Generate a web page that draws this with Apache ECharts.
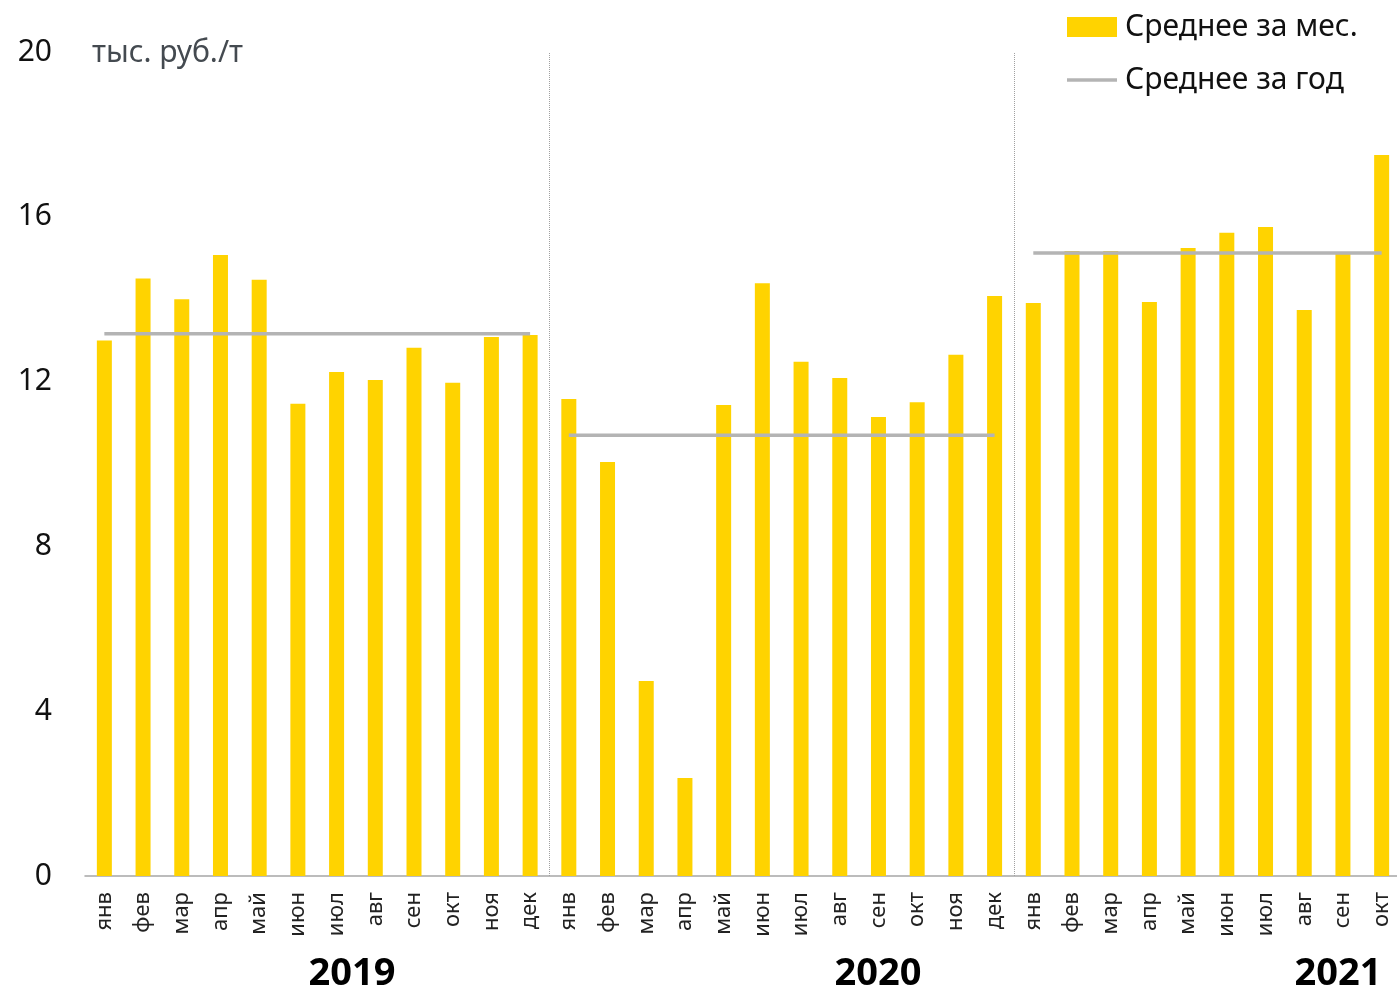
<!DOCTYPE html>
<html><head><meta charset="utf-8">
<script src="https://cdn.jsdelivr.net/npm/echarts@6/dist/echarts.min.js"></script>
<style>html,body{margin:0;padding:0;background:#fff}#c{width:1397px;height:991px}</style>
</head><body><div id="c"></div>
<script>
const monthNames = ['янв','фев','мар','апр','май','июн','июл','авг','сен','окт','ноя','дек'];
const years = ['2019','2020','2021'];
const monthsPerYear = [12, 12, 10];
const monthly = [
  13.0, 14.5, 14.0, 15.07, 14.47, 11.46, 12.23, 12.04, 12.82, 11.97, 13.08, 13.13,
  11.58, 10.05, 4.73, 2.38, 11.43, 14.39, 12.48, 12.09, 11.14, 11.5, 12.65, 14.08,
  13.91, 15.17, 15.17, 13.93, 15.24, 15.61, 15.75, 13.74, 15.12, 17.5
];
const yearAvg = [13.16, 10.70, 15.12];
const unitLabel = 'тыс. руб./т';
const seriesNames = ['Среднее за мес.', 'Среднее за год'];

const categories = [];
const separators = [];
const avgSeriesList = [];
let start = 0;
monthsPerYear.forEach((n, y) => {
  for (let i = 0; i < n; i++) categories.push(monthNames[i]);
});
monthsPerYear.forEach((n, y) => {
  const arr = [];
  for (let k = 0; k < categories.length; k++) arr.push(k >= start && k < start + n ? yearAvg[y] : '-');
  avgSeriesList.push(arr);
  start += n;
  if (y < monthsPerYear.length - 1) separators.push(start - 0.5);
});

const font = '"Noto Sans", sans-serif';
const lineColor = '#B4B4B4';
const chart = echarts.init(document.getElementById('c'));
const series = [
  { name: seriesNames[0], type: 'bar', data: monthly, barWidth: 15, itemStyle: { color: '#FFD300' } }
];
avgSeriesList.forEach(arr => series.push({
  name: seriesNames[1], type: 'line', data: arr, symbol: 'none', connectNulls: false,
  lineStyle: { color: lineColor, width: 3.5 }, itemStyle: { color: lineColor }
}));
series.push({ type: 'line', xAxisIndex: 1, data: [], silent: true,
  markLine: { silent: true, symbol: 'none', label: { show: false },
    lineStyle: { color: '#A0A0A0', type: 'dotted', width: 1 },
    data: separators.map(v => ({ xAxis: v })) } });

chart.setOption({
  animation: false,
  textStyle: { fontFamily: font },
  grid: { left: 85, width: 1316, top: 52, bottom: 115, containLabel: false, outerBoundsMode: 'none' },
  legend: {
    orient: 'vertical', left: 1067, top: 12, padding: 0, itemWidth: 50, itemHeight: 20, itemGap: 23,
    symbolKeepAspect: true,
    textStyle: { fontSize: 30, color: '#111', fontFamily: font, padding: [0,0,0,3] },
    data: [
      { name: seriesNames[0], icon: 'rect' },
      { name: seriesNames[1], icon: 'path://M0,0L50,0L50,3.5L0,3.5Z', itemStyle: { color: lineColor } }
    ]
  },
  xAxis: [{
    type: 'category', data: categories,
    axisLine: { lineStyle: { color: '#A6A6A6', width: 1.5 } },
    axisTick: { show: false },
    axisLabel: { rotate: 90, fontSize: 22, color: '#222', margin: 16, interval: 0, fontFamily: font }
  }, {
    type: 'value', min: -0.5, max: categories.length - 0.5, show: false
  }],
  yAxis: {
    type: 'value', min: 0, max: 20, interval: 4,
    axisLine: { show: false }, axisTick: { show: false }, splitLine: { show: false },
    axisLabel: { fontSize: 30, color: '#111', margin: 33, fontFamily: font }
  },
  graphic: [
    { type: 'text', left: 92, top: 38, style: { text: unitLabel, fontSize: 30, fill: '#444a50', fontFamily: font } },
    { type: 'text', x: 352, y: 974, style: { text: years[0], fontSize: 38, fontWeight: 'bold', fill: '#000', align: 'center', verticalAlign: 'middle', fontFamily: font } },
    { type: 'text', x: 878, y: 974, style: { text: years[1], fontSize: 38, fontWeight: 'bold', fill: '#000', align: 'center', verticalAlign: 'middle', fontFamily: font } },
    { type: 'text', x: 1338, y: 974, style: { text: years[2], fontSize: 38, fontWeight: 'bold', fill: '#000', align: 'center', verticalAlign: 'middle', fontFamily: font } }
  ],
  series: series
});
</script></body></html>
